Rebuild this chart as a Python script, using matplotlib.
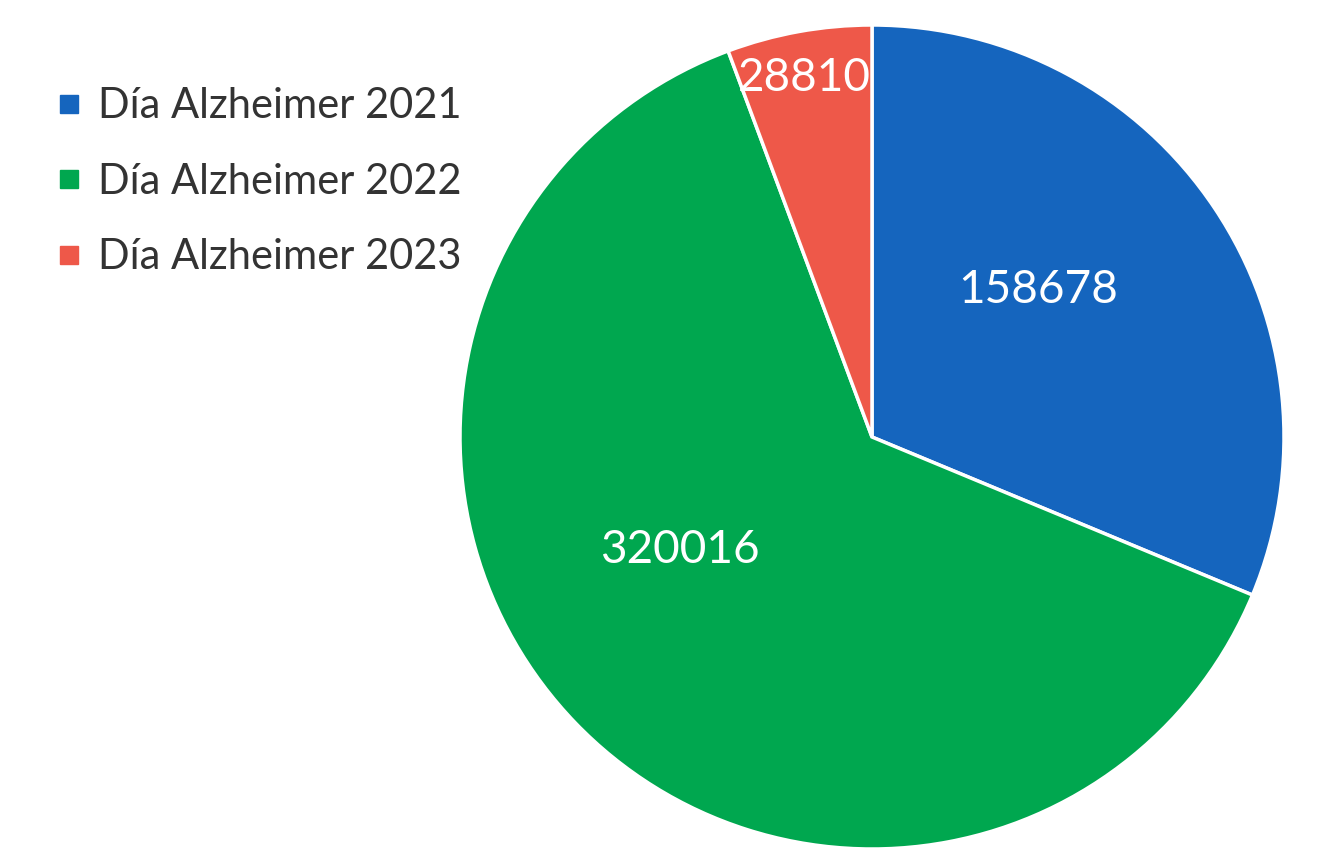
import matplotlib
matplotlib.use("Agg")
import matplotlib.pyplot as plt
from matplotlib.lines import Line2D

plt.rcParams['font.family'] = ['Lato', 'DejaVu Sans']

categories = ["Día Alzheimer 2021", "Día Alzheimer 2022", "Día Alzheimer 2023"]
values = [158678, 320016, 28810]
colors = ["#1565BE", "#00A74F", "#EE5849"]
# label anchor points (data coords, pie radius = 1)
label_pos = [(0.403, 0.356), (-0.466, -0.274), (-0.163, 0.871)]

fig = plt.figure(figsize=(13.23, 8.49), dpi=100)
ax = fig.add_axes([460 / 1323, 0.0, 824 / 1323, 824 / 849])

wedges, _ = ax.pie(values, colors=colors, startangle=90, counterclock=False,
                   radius=1, wedgeprops=dict(edgecolor="white", linewidth=2.5))
for v, (x, y) in zip(values, label_pos):
    ax.text(x, y, str(v), ha="center", va="center", color="white", fontsize=33)
ax.set_xlim(-1, 1)
ax.set_ylim(-1, 1)
ax.set_aspect("equal")

handles = [Line2D([0], [0], marker="s", linestyle="", markersize=13,
                  markerfacecolor=c, markeredgecolor=c) for c in colors]
fig.legend(handles, categories, loc="upper left", bbox_to_anchor=(0.011, 0.9415),
           frameon=False, fontsize=30, labelspacing=0.9, handletextpad=0.3,
           handlelength=0.8, labelcolor="#333333")

fig.savefig("out.png", dpi=100)
